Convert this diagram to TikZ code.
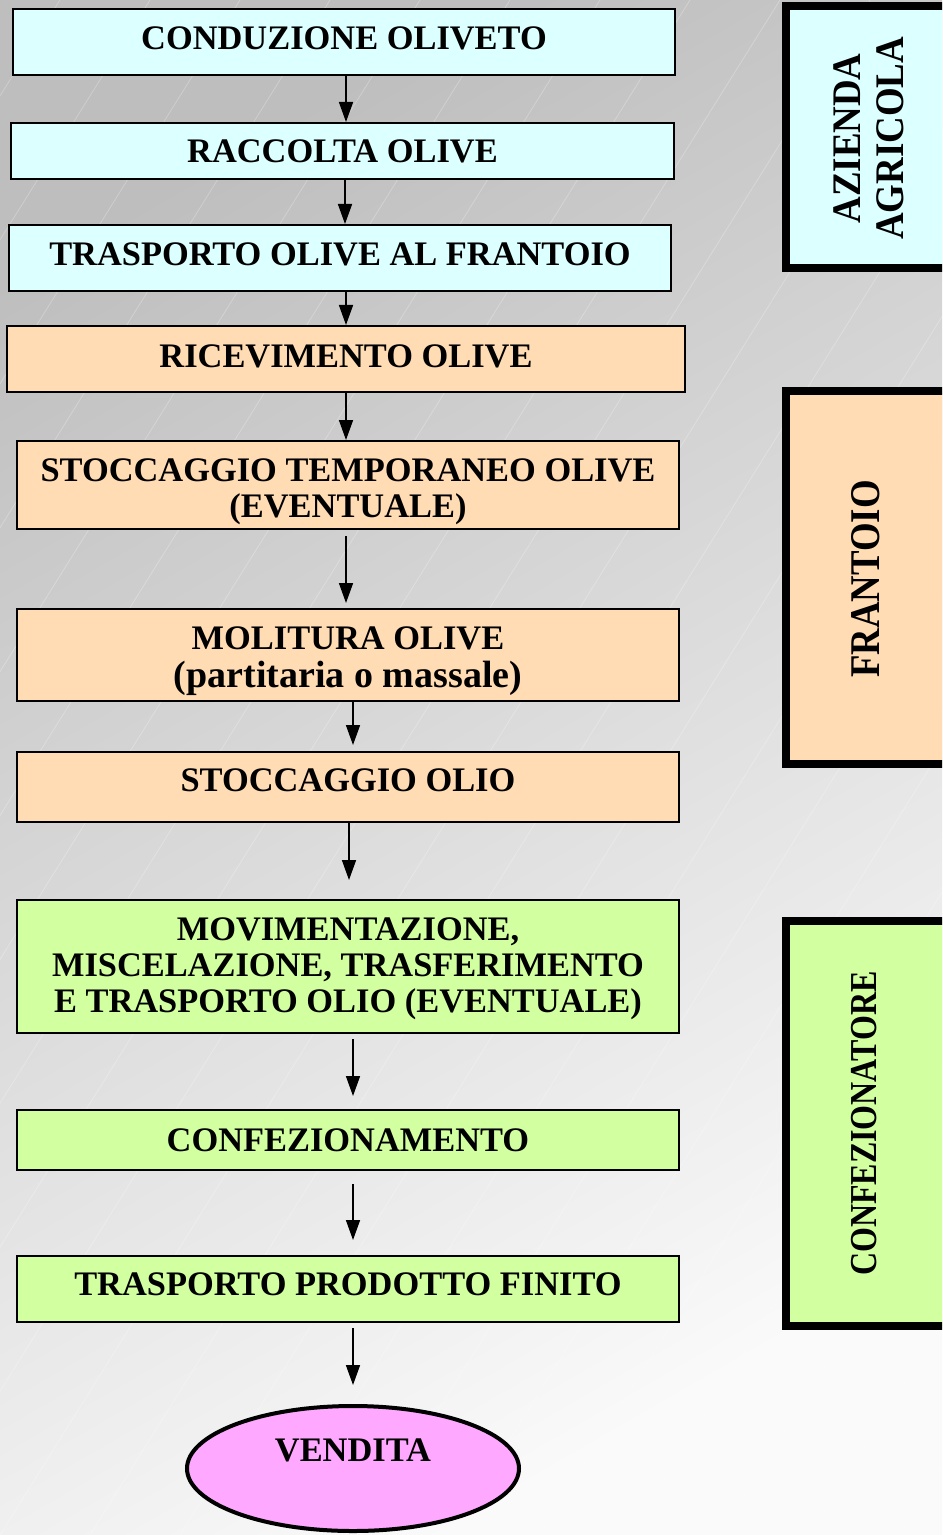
\documentclass[tikz,border=0pt]{standalone}
\usepackage{fontspec}
\setmainfont{Liberation Serif}
\usepackage{graphicx}
\usetikzlibrary{arrows.meta,shapes.geometric}
\definecolor{bgdark}{RGB}{190,190,190}
\definecolor{bglight}{RGB}{250,250,250}
\definecolor{cyanbox}{RGB}{220,255,255}
\definecolor{peachbox}{RGB}{255,220,180}
\definecolor{greenbox}{RGB}{210,255,160}
\definecolor{pinkbox}{RGB}{255,168,255}
\newcommand{\nudge}[2]{\raisebox{#1}[\height][\depth]{#2}}
\tikzset{
  stepbox/.style={draw=black,line width=1pt,rectangle,inner sep=0,align=center,
    font=\fontsize{17.2}{18}\selectfont\bfseries},
  zone/.style={draw=black,line width=4pt,rectangle,inner sep=0},
  zonetext/.style={rotate=90,inner sep=0,font=\bfseries},
  flow/.style={line width=0.8pt,-{Triangle[length=10pt,width=7pt]}}
}

\begin{document}
\begin{tikzpicture}[x=0.5pt,y=-0.5pt]
\clip (0,0) rectangle (942,1535);
\shade[top color=bgdark,bottom color=bglight,shading angle=30] (0,0) rectangle (942,1535); %background
\foreach \i in {-12,...,10}
  \draw[white,opacity=.25,line width=.4pt] (\i*90,1535)--(\i*90+960,0); %stripes

%phase boxes
\node[stepbox,fill=cyanbox,minimum width=331pt,minimum height=33pt] (cond) at (344,42) {\nudge{2pt}{CONDUZIONE OLIVETO}};
\node[stepbox,fill=cyanbox,minimum width=331.5pt,minimum height=28pt] (racc) at (342.5,151) {RACCOLTA OLIVE};
\node[stepbox,fill=cyanbox,minimum width=331pt,minimum height=33pt] (trasp) at (340,258) {\nudge{2pt}{TRASPORTO OLIVE AL FRANTOIO}};
\node[stepbox,fill=peachbox,minimum width=339pt,minimum height=33pt] (ricev) at (346,359) {\nudge{1.5pt}{RICEVIMENTO OLIVE}};
\node[stepbox,fill=peachbox,minimum width=331pt,minimum height=44pt] (stoccT) at (348,485)
  {\nudge{-3.5pt}{\begin{tabular}{@{}c@{}}STOCCAGGIO TEMPORANEO OLIVE\\(EVENTUALE)\end{tabular}}};
\node[stepbox,fill=peachbox,minimum width=331pt,minimum height=46pt] (molit) at (348,655)
  {\nudge{-3pt}{\begin{tabular}{@{}c@{}}MOLITURA OLIVE\\[0.5pt]\fontsize{19}{18.5}\selectfont(partitaria o massale)\end{tabular}}};
\node[stepbox,fill=peachbox,minimum width=331pt,minimum height=35pt] (stoccO) at (348,787) {\nudge{3.5pt}{STOCCAGGIO OLIO}};
\node[stepbox,fill=greenbox,minimum width=331pt,minimum height=66.5pt] (movim) at (348,966.5)
  {\nudge{-1.5pt}{\begin{tabular}{@{}c@{}}MOVIMENTAZIONE,\\MISCELAZIONE, TRASFERIMENTO\\E TRASPORTO OLIO (EVENTUALE)\end{tabular}}};
\node[stepbox,fill=greenbox,minimum width=331pt,minimum height=30pt] (confez) at (348,1140) {CONFEZIONAMENTO};
\node[stepbox,fill=greenbox,minimum width=331pt,minimum height=33pt] (traspPF) at (348,1289) {\nudge{2.5pt}{TRASPORTO PRODOTTO FINITO}};
\node[ellipse,draw=black,line width=2pt,fill=pinkbox,inner sep=0,minimum width=166pt,minimum height=62.5pt,
  font=\fontsize{17.2}{18}\selectfont\bfseries] (vend) at (353,1468.5) {\nudge{9pt}{VENDITA}};

%arrows
\draw[flow] ([xshift=1pt]cond.south) -- ([xshift=1.75pt]racc.north);
\draw[flow] ([xshift=1.25pt]racc.south) -- ([xshift=2.5pt]trasp.north);
\draw[flow] ([xshift=3pt]trasp.south) -- (ricev.north);
\draw[flow] (ricev.south) -- ([xshift=-1pt]stoccT.north);
\draw[flow,shorten <=3pt,shorten >=2.5pt] ([xshift=-1pt]stoccT.south) -- ([xshift=-1pt]molit.north);
\draw[flow,shorten >=3pt] ([xshift=2.5pt]molit.south) -- ([xshift=2.5pt]stoccO.north);
\draw[flow,shorten >=9.5pt] ([xshift=.5pt]stoccO.south) -- ([xshift=.5pt]movim.north);
\draw[flow,shorten <=2.5pt,shorten >=6.5pt] ([xshift=2.5pt]movim.south) -- ([xshift=2.5pt]confez.north);
\draw[flow,shorten <=6.5pt,shorten >=7.5pt] ([xshift=2.5pt]confez.south) -- ([xshift=2.5pt]traspPF.north);
\draw[flow,shorten <=2.5pt,shorten >=9.5pt] ([xshift=2.5pt]traspPF.south) -- (vend.north);

%side zones
\node[zone,fill=cyanbox,minimum width=97pt,minimum height=131pt] (azienda) at (883,137) {};
\node[zone,fill=peachbox,minimum width=97pt,minimum height=186.5pt] (frantoio) at (883,577.5) {};
\node[zone,fill=greenbox,minimum width=97pt,minimum height=202.5pt] (confezionatore) at (883,1123.5) {};
\node[zonetext] (aziendaLab) at (873,138.5) {\scalebox{1}[1.1]{\fontsize{18.45}{19.5}\selectfont\begin{tabular}{@{}c@{}}AZIENDA\\AGRICOLA\end{tabular}}};
\node[zonetext] (frantoioLab) at (866,579) {\scalebox{1}[1.15]{\fontsize{18.4}{19}\selectfont FRANTOIO}};
\node[zonetext] (confezionatoreLab) at (864.5,1123.5) {\scalebox{1}[1.19]{\fontsize{16}{17}\selectfont CONFEZIONATORE}};
\end{tikzpicture}
\end{document}
